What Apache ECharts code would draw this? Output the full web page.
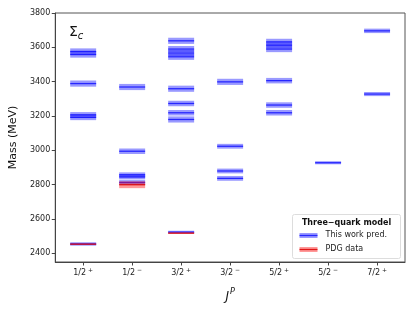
<!DOCTYPE html>
<html>
<head>
<meta charset="utf-8">
<script src="https://cdn.jsdelivr.net/npm/echarts@6/dist/echarts.min.js"></script>
<style>html,body{margin:0;padding:0;background:#fff;}#c{width:415px;height:312px;}</style>
</head>
<body>
<div id="c"></div>
<script>
// Categories (J^P): spin and parity
const jpSpin   = ['1/2', '1/2', '3/2', '3/2', '5/2', '5/2', '7/2'];
const jpParity = ['+', '−', '+', '−', '+', '−', '+'];
// Mass tick labels
const massTicks = [2400, 2600, 2800, 3000, 3200, 3400, 3600, 3800];

// This work predictions: J^P index, mass (MeV), band half-width (MeV)
const predJP   = [0, 0, 0, 0, 0, 0,   1, 1, 1, 1, 1,   2, 2, 2, 2, 2, 2, 2, 2, 2,   3, 3, 3, 3,   4, 4, 4, 4, 4, 4,   5,   6, 6];
const predMass = [2455, 3192, 3207, 3389, 3558, 3576,
                  2813, 2845, 2858, 2995, 3369,
                  2524, 3180, 3219, 3273, 3359, 3545, 3567, 3590, 3638,
                  2837, 2880, 3024, 3399,
                  3219, 3264, 3406, 3590, 3612, 3632,
                  2928,
                  3328, 3696];
const predErr  = [10, 16, 16, 18, 18, 18,
                  14, 14, 14, 16, 18,
                  8, 18, 16, 16, 18, 18, 18, 18, 18,
                  14, 14, 14, 18,
                  16, 16, 16, 18, 18, 18,
                  9,
                  12, 13];

// PDG data
const pdgJP   = [0, 1, 2];
const pdgMass = [2454, 2800, 2518];
const pdgErr  = [2, 20, 3];

const predData = predJP.map((j, i) => [j, predMass[i], predErr[i]]);
const pdgData  = pdgJP.map((j, i) => [j, pdgMass[i], pdgErr[i]]);
const jpIdx = jpSpin.map((_, i) => i);

function levelRenderer(fill, stroke) {
  return function (params, api) {
    const x = api.value(0), m = api.value(1), e = api.value(2);
    const hw = 0.265;
    const a = api.coord([x - hw, m + e]);
    const b = api.coord([x + hw, m - e]);
    const c1 = api.coord([x - hw, m]);
    const c2 = api.coord([x + hw, m]);
    return {
      type: 'group',
      children: [
        { type: 'rect', shape: { x: a[0], y: a[1], width: b[0] - a[0], height: b[1] - a[1] },
          style: { fill: fill } },
        { type: 'line', shape: { x1: c1[0], y1: c1[1], x2: c2[0], y2: c2[1] },
          style: { stroke: stroke, lineWidth: 1.3 } }
      ]
    };
  };
}

const chart = echarts.init(document.getElementById('c'), null, { renderer: 'canvas' });
chart.setOption({
  animation: false,
  grid: { left: 55, right: 10, top: 13, bottom: 50, show: true, borderColor: '#555', borderWidth: 1 },
  xAxis: {
    type: 'value', min: -0.57, max: 6.57,
    splitLine: { show: false },
    axisLine: { show: true, onZero: false, lineStyle: { color: '#444' } },
    axisTick: { show: true, length: 3.5, customValues: jpIdx, lineStyle: { color: '#444' } },
    axisLabel: { customValues: jpIdx,
                 formatter: v => '{a|' + jpSpin[Math.round(v)] + '}{b|' + jpParity[Math.round(v)] + '}',
                 rich: {
                   a: { fontSize: 8, color: '#222', fontFamily: 'DejaVu Sans' },
                   b: { fontSize: 6, color: '#222', fontFamily: 'DejaVu Sans', padding: [0, 0, 6, 2] }
                 },
                 margin: 5 },
    name: '{j|J}{p|P}', nameLocation: 'middle', nameGap: 26,
    nameTextStyle: {
      rich: {
        j: { fontSize: 12, fontStyle: 'italic', fontFamily: 'DejaVu Sans', color: '#111' },
        p: { fontSize: 8, fontStyle: 'italic', fontFamily: 'DejaVu Sans', color: '#111', padding: [0, 0, 9, 1] }
      }
    }
  },
  yAxis: {
    type: 'value', min: 2350, max: 3800,
    splitLine: { show: false },
    axisLine: { show: true, onZero: false, lineStyle: { color: '#444' } },
    axisTick: { show: true, length: 3.5, customValues: massTicks, lineStyle: { color: '#444' } },
    axisLabel: { customValues: massTicks, formatter: v => String(v),
                 fontSize: 8, color: '#222', fontFamily: 'DejaVu Sans', margin: 5 },
    name: 'Mass (MeV)', nameLocation: 'middle', nameGap: 34,
    nameTextStyle: { fontSize: 11, color: '#111', fontFamily: 'DejaVu Sans' }
  },
  series: [
    { type: 'custom', name: 'This work pred.', renderItem: levelRenderer('rgba(0,0,255,0.4)', 'rgba(0,0,255,0.75)'),
      encode: { x: 0, y: 1 }, data: predData, z: 2 },
    { type: 'custom', name: 'PDG data', renderItem: levelRenderer('rgba(255,0,0,0.4)', 'rgba(220,0,0,0.85)'),
      encode: { x: 0, y: 1 }, data: pdgData, z: 3 }
  ],
  graphic: [
    { type: 'text', left: 69, top: 25,
      style: { text: '{s|Σ}{c|c}', rich: {
        s: { fontSize: 14, fontFamily: 'DejaVu Sans', fill: '#111' },
        c: { fontSize: 10, fontStyle: 'italic', fontFamily: 'DejaVu Sans', fill: '#111', padding: [8, 0, 0, 0] } } } },
    { type: 'group', left: 292, top: 214, children: [
      { type: 'rect', shape: { x: 0, y: 0, width: 108, height: 44, r: 2 },
        style: { fill: 'rgba(255,255,255,0.85)', stroke: '#ddd', lineWidth: 1 } },
      { type: 'text', x: 54, y: 4, style: { text: 'Three−quark model', font: 'bold 8px "DejaVu Sans"', fill: '#111', align: 'center' } },
      { type: 'rect', shape: { x: 7, y: 18.5, width: 18, height: 5 }, style: { fill: 'rgba(0,0,255,0.4)' } },
      { type: 'line', shape: { x1: 7, y1: 21, x2: 25, y2: 21 }, style: { stroke: 'rgba(0,0,255,0.75)', lineWidth: 1.3 } },
      { type: 'text', x: 33, y: 16.5, style: { text: 'This work pred.', font: '8px "DejaVu Sans"', fill: '#222' } },
      { type: 'rect', shape: { x: 7, y: 32.5, width: 18, height: 5 }, style: { fill: 'rgba(255,0,0,0.4)' } },
      { type: 'line', shape: { x1: 7, y1: 35, x2: 25, y2: 35 }, style: { stroke: 'rgba(220,0,0,0.85)', lineWidth: 1.3 } },
      { type: 'text', x: 33, y: 30.5, style: { text: 'PDG data', font: '8px "DejaVu Sans"', fill: '#222' } }
    ] }
  ]
});
</script>
</body>
</html>
